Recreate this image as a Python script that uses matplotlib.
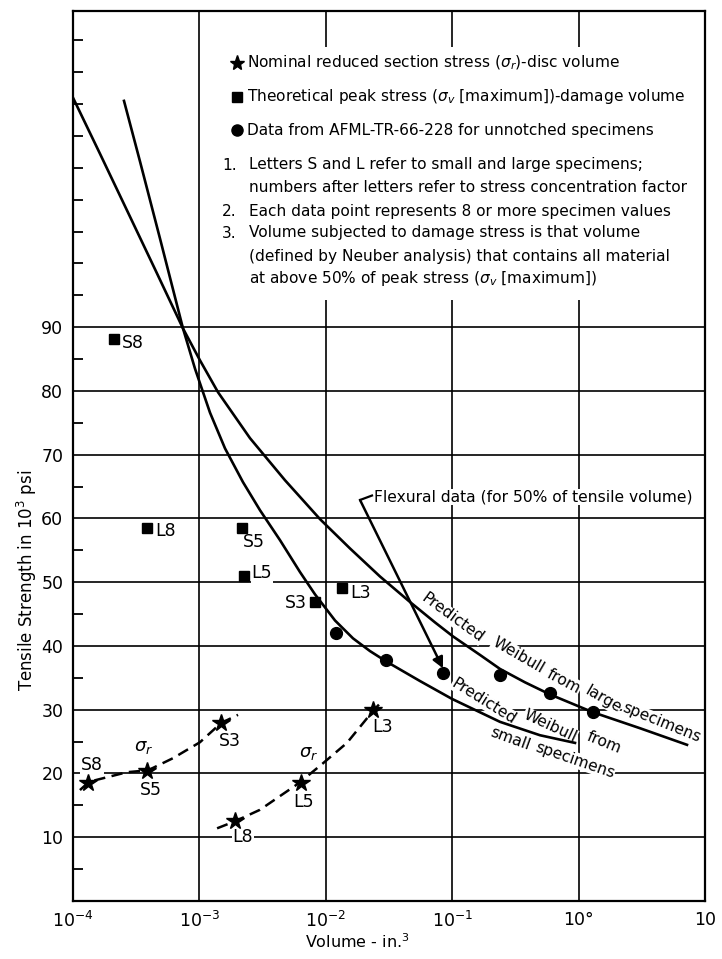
import matplotlib
matplotlib.use("Agg")
import matplotlib.pyplot as plt
from matplotlib.patches import Rectangle
from matplotlib.lines import Line2D

plt.rcParams['font.family'] = ['DejaVu Sans']
plt.rcParams['mathtext.fontset'] = 'dejavusans'

# ---- data: volume in in.^3, tensile strength in 10^3 psi ----
# theoretical peak stress (sigma_v max) vs damage volume
peak_labels = ["S8", "L8", "S5", "L5", "S3", "L3"]
peak_volume = [2.1e-4, 3.85e-4, 2.17e-3, 2.25e-3, 8.2e-3, 1.34e-2]
peak_strength = [88.2, 58.5, 58.5, 50.9, 46.9, 49.1]

# nominal reduced section stress (sigma_r) vs disc volume
nominal_labels = ["S8", "S5", "S3", "L8", "L5", "L3"]
nominal_volume = [1.31e-4, 3.85e-4, 1.48e-3, 1.91e-3, 6.37e-3, 2.36e-2]
nominal_strength = [18.5, 20.4, 27.9, 12.5, 18.5, 29.9]

# AFML-TR-66-228 unnotched specimens
afml_volume = [0.0121, 0.0299, 0.0845, 0.237, 0.595, 1.29]
afml_strength = [42.0, 37.8, 35.7, 35.4, 32.6, 29.6]

# sigma_r trend lines (dashed)
small_trend_volume = [1.135e-4, 1.34e-4, 2.67e-4, 3.92e-4, 6.18e-4, 1.01e-3, 1.48e-3, 2.02e-3]
small_trend_strength = [17.4, 18.7, 20.2, 20.5, 22.4, 24.9, 27.9, 29.2]
large_trend_volume = [1.38e-3, 1.91e-3, 3.01e-3, 6.14e-3, 9.5e-3, 0.0147, 0.0236, 0.0284]
large_trend_strength = [11.4, 12.5, 14.3, 18.5, 21.6, 24.8, 29.8, 31.5]

# predicted Weibull curves
weibull_large_volume = [1.000e-4, 1.636e-4, 2.723e-4, 4.454e-4, 7.419e-4, 1.011e-3, 1.404e-3,
                        2.513e-3, 4.755e-3, 8.996e-3, 0.01554, 0.02684, 0.04636, 0.07310,
                        0.1015, 0.1659, 0.2389, 0.3766, 0.5939, 1.300, 3.060, 7.204]
weibull_large_strength = [126.0, 117.2, 108.0, 99.1, 89.8, 84.8, 79.8,
                          72.6, 66.0, 59.9, 55.3, 50.9, 46.9, 43.7,
                          41.5, 38.6, 36.4, 34.3, 32.4, 29.6, 27.1, 24.5]
weibull_small_volume = [2.532e-4, 3.389e-4, 4.880e-4, 7.419e-4, 9.23e-4, 1.213e-3, 1.594e-3,
                        2.212e-3, 3.015e-3, 4.342e-3, 6.249e-3, 8.214e-3, 0.01183, 0.01641,
                        0.02237, 0.03050, 0.05563, 0.09963, 0.2389, 0.4950, 0.9365]
weibull_small_strength = [125.5, 116.0, 103.9, 89.8, 83.5, 76.6, 71.0,
                          65.7, 61.3, 56.6, 51.6, 48.1, 44.0, 41.2,
                          39.2, 37.5, 34.5, 31.7, 28.1, 26.0, 24.8]

# flexural data leader (text anchor -> data point)
flexural_from = (0.01866, 62.9)
flexural_to = (0.0845, 36.5)

x_ticks = [1e-4, 1e-3, 1e-2, 1e-1, 1e0, 1e1]
x_ticklabels = ["10$^{-4}$", "10$^{-3}$", "10$^{-2}$", "10$^{-1}$", "10°", "10"]
y_ticks = [10, 20, 30, 40, 50, 60, 70, 80, 90]
y_minor = [5, 15, 25, 35, 45, 55, 65, 75, 85, 95, 100, 105, 110, 115, 120, 125, 130, 135]

W, H = 722, 959
fig = plt.figure(figsize=(W / 100, H / 100), dpi=100)
ax = fig.add_axes([73 / W, 1 - 901 / H, (705 - 73) / W, (901 - 11) / H])
ax.set_xscale('log')
ax.set_xlim(1e-4, 10)
ax.set_ylim(0, 139.6)

for s in ax.spines.values():
    s.set_linewidth(1.6)

ax.set_xticks(x_ticks)
ax.set_xticklabels(x_ticklabels, fontsize=12.5)
ax.xaxis.set_minor_locator(matplotlib.ticker.NullLocator())
ax.set_yticks(y_ticks)
ax.set_yticklabels([str(v) for v in y_ticks], fontsize=12.5)
ax.set_yticks(y_minor, minor=True)
ax.tick_params(axis='both', which='major', length=0, pad=7)
ax.tick_params(axis='y', which='minor', direction='in', length=7.5, width=1.3)
ax.grid(True, which='major', color='black', linewidth=1.2)
ax.set_axisbelow(True)

ax.set_xlabel("Volume - in.$^3$", fontsize=11.5)
ax.xaxis.set_label_coords((357 - 73) / (705 - 73), -(932 - 901) / (901 - 11))
ax.set_ylabel("Tensile Strength in 10$^3$ psi", fontsize=12)
ax.yaxis.set_label_coords(-(73 - 39) / (705 - 73), (901 - 580) / (901 - 11))


def fx(px):
    return px / W


def fy(py):
    return 1 - py / H


# blank panel behind the notes
ax.add_patch(Rectangle((fx(218), fy(300)), fx(698) - fx(218), fy(47) - fy(300),
                       transform=fig.transFigure, facecolor='white', edgecolor='none', zorder=1))

# curves
ax.plot(weibull_large_volume, weibull_large_strength, color='black', lw=1.9, zorder=3)
ax.plot(weibull_small_volume, weibull_small_strength, color='black', lw=1.9, zorder=3)
ax.plot(small_trend_volume, small_trend_strength, color='black', lw=1.8,
        dashes=(4.5, 2.6), zorder=3)
ax.plot(large_trend_volume, large_trend_strength, color='black', lw=1.8,
        dashes=(4.5, 2.6), zorder=3)

# markers
ax.plot(peak_volume, peak_strength, 's', color='black', ms=7, zorder=4)
ax.plot(nominal_volume, nominal_strength, '*', color='black', ms=13, zorder=4)
ax.plot(afml_volume, afml_strength, 'o', color='black', ms=8.5, zorder=4)

label_box = dict(facecolor='white', edgecolor='none', pad=0.6)
peak_offsets = [(19, -4), (19, -3), (12, -14), (18, 3), (-19, -1), (19, -5)]
for lab, xv, yv, off in zip(peak_labels, peak_volume, peak_strength, peak_offsets):
    ax.annotate(lab, (xv, yv), xytext=off, textcoords='offset pixels', ha='center',
                va='center', fontsize=12.5, bbox=label_box, zorder=2)
nominal_offsets = [(4, 18), (4, -19), (9, -18), (8, -16), (3, -19), (10, -17)]
for lab, xv, yv, off in zip(nominal_labels, nominal_volume, nominal_strength, nominal_offsets):
    ax.annotate(lab, (xv, yv), xytext=off, textcoords='offset pixels', ha='center',
                va='center', fontsize=12.5, bbox=label_box, zorder=2)

ax.text(3.6e-4, 24.2, r"$\sigma_r$", fontsize=13, ha='center', va='center', zorder=2)
ax.text(7.3e-3, 23.2, r"$\sigma_r$", fontsize=13, ha='center', va='center', zorder=2)

# flexural data note with leader
ax.annotate("", xy=flexural_to, xytext=flexural_from,
            arrowprops=dict(arrowstyle='-|>', color='black', lw=1.8, mutation_scale=16,
                            shrinkA=0, shrinkB=0), zorder=3)
ax.plot([flexural_from[0], 0.0232], [flexural_from[1], 63.6], color='black', lw=1.6, zorder=3)
ax.text(fx(374), fy(497), "Flexural data (for 50% of tensile volume)", fontsize=11.2,
        ha='left', va='center', transform=fig.transFigure,
        bbox=dict(facecolor='white', edgecolor='none', pad=0.5), zorder=2)

# curve captions, word by word along the curves
upper_words = [("Predicted", 453, 618, -36), ("Weibull", 518, 655, -30),
               ("from", 564, 681, -28), ("large", 603, 699, -30),
               ("specimens", 662, 723, -22)]
lower_words = [("Predicted", 484, 701, -32), ("Weibull", 550, 726, -25),
               ("from", 604, 743, -22), ("small", 510, 739, -20),
               ("specimens", 575, 760, -19)]
for word, px, py, rot in upper_words + lower_words:
    ax.text(fx(px), fy(py), word, fontsize=11.2, rotation=rot, ha='center', va='center',
            rotation_mode='anchor', transform=fig.transFigure,
            bbox=dict(facecolor='white', edgecolor='none', pad=0.3), zorder=2)

# notes panel
note_fs = 11.1
legend_rows = [
    ('*', 63, "Nominal reduced section stress ($\\sigma_r$)-disc volume"),
    ('s', 97, "Theoretical peak stress ($\\sigma_v$ [maximum])-damage volume"),
    ('o', 130, "Data from AFML-TR-66-228 for unnotched specimens"),
]
marker_size = {'*': 11, 's': 7, 'o': 8}
for mk, py, txt in legend_rows:
    fig.add_artist(Line2D([fx(237)], [fy(py)], marker=mk, color='black',
                          ms=marker_size[mk], transform=fig.transFigure))
    fig.text(fx(247), fy(py), txt, fontsize=note_fs, ha='left', va='center')

note_rows = [
    ("1.", 165, "Letters S and L refer to small and large specimens;"),
    ("", 188, "numbers after letters refer to stress concentration factor"),
    ("2.", 211, "Each data point represents 8 or more specimen values"),
    ("3.", 233, "Volume subjected to damage stress is that volume"),
    ("", 256, "(defined by Neuber analysis) that contains all material"),
    ("", 278, "at above 50% of peak stress ($\\sigma_v$ [maximum])"),
]
for num, py, txt in note_rows:
    if num:
        fig.text(fx(222), fy(py), num, fontsize=note_fs, ha='left', va='center')
    fig.text(fx(249), fy(py), txt, fontsize=note_fs, ha='left', va='center')

fig.savefig("out.png", dpi=100, facecolor='white')
